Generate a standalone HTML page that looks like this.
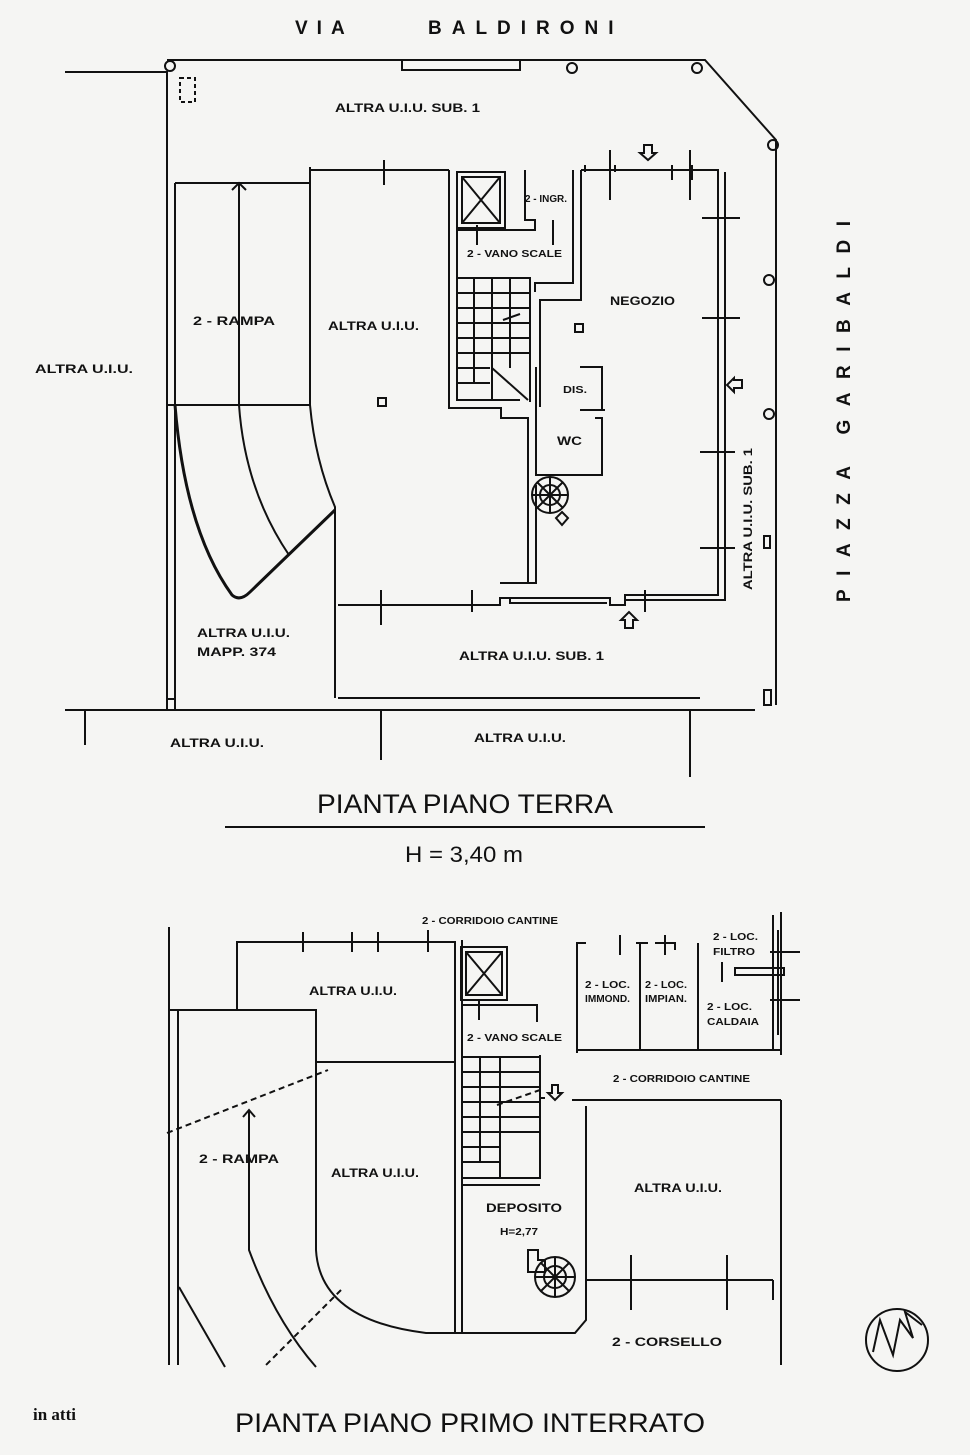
<!DOCTYPE html>
<html><head><meta charset="utf-8"><style>
html,body{margin:0;padding:0;background:#f5f5f3;}
svg{display:block}
text{font-family:"Liberation Sans",Arial,sans-serif;fill:#111;}
.b{font-weight:bold;font-size:12px;}
.s{font-weight:bold;font-size:10px;}
</style></head><body>
<svg width="970" height="1455" viewBox="0 0 970 1455" xmlns="http://www.w3.org/2000/svg">
<rect width="970" height="1455" fill="#f5f5f3"/>
<g stroke="#111" stroke-width="2" fill="none">
<!-- ===== TOP PLAN ===== -->
<path d="M65 72 H167 V710"/>
<path d="M167 60 H705 L776 140 V705"/>
<rect x="402" y="60" width="118" height="10"/>
<circle cx="170" cy="66" r="5"/><circle cx="572" cy="68" r="5"/><circle cx="697" cy="68" r="5"/><circle cx="773" cy="145" r="5"/>
<circle cx="769" cy="280" r="5"/><circle cx="769" cy="414" r="5"/>
<rect x="764" y="536" width="6" height="12"/>
<rect x="180" y="78" width="15" height="24" stroke-dasharray="4 3"/>
<path d="M65 710 H755"/>
<path d="M338 698 H700"/>
<path d="M85 710 V745 M381 710 V760 M690 710 V777"/>
<rect x="167" y="699" width="8" height="11"/>
<rect x="764" y="690" width="7" height="15"/>
<!-- ramp -->
<path d="M175 183 H310"/>
<path d="M175 183 V700"/>
<path d="M168 405 H310"/>
<path d="M310 167 V405 Q315 460 335 507 V698"/>
<path d="M175 405 Q185 530 232 595 Q240 602 250 592 L335 510" stroke-width="3"/>
<path d="M239 183 V405 Q245 490 289 555"/>
<path d="M232 190 L239 183 L246 190"/>
<!-- altra block top -->
<path d="M310 170 H449"/>
<path d="M384 160 V185"/>
<!-- stair core -->
<path d="M449 170 V408 H501 V418 H528 V583 H500"/>
<path d="M457 172 V400 H520"/>
<rect x="457" y="172" width="48" height="56"/><rect x="462" y="177" width="38" height="46"/>
<path d="M462 177 L500 223 M500 177 L462 223"/>
<path d="M457 230 H535 V220 H525 V170"/>
<path d="M477 225 V245"/>
<path d="M553 220 V245"/>
<path d="M457 278 H530 V402"/>
<path d="M457 293 H530 M457 308 H530 M457 323 H530 M457 338 H530 M457 353 H530 M457 368 H490 M457 383 H490"/>
<path d="M474 278 V383 M492 278 V400 M510 278 V368"/>
<path d="M492 368 L528 400 M503 320 L520 314" />
<path d="M573 170 V283 H535 V292 M581 170 V300 H540 V407"/>
<path d="M536 418 V475 H602 V418 H595 M536 418 V367"/>
<path d="M580 367 H602 V410 M580 410 H605"/>
<path d="M528 583 H536 V485"/>
<circle cx="550" cy="495" r="18"/>
<path d="M550 477 V513 M532 495 H568 M537 482 L563 508 M563 482 L537 508"/>
<circle cx="550" cy="495" r="10"/>
<path d="M562 512 L568 518 L562 525 L556 518 Z"/>
<path d="M338 605 H500 V598 H610 V605 H625 V595 H718 V170 H581"/>
<path d="M725 172 V600 H625"/>
<path d="M585 165 V172 M615 165 V172 M672 165 V180 M692 165 V180"/>
<path d="M510 598 V603 H607"/>
<path d="M610 150 V200 M690 150 V200"/>
<path d="M702 218 H740 M702 318 H740 M700 452 H735 M700 548 H735"/>
<path d="M381 590 V625 M472 590 V612 M645 590 V612"/>
<!-- arrows -->
<path d="M644 145 H652 V153 H656 L648 160 L640 153 H644 Z"/>
<path d="M625 628 H633 V620 H637 L629 612 L621 620 H625 Z"/>
<path d="M742 380 V388 H734 V392 L727 385 L734 378 V380 Z"/>
<rect x="575" y="324" width="8" height="8"/><rect x="378" y="398" width="8" height="8"/>

<!-- title line -->
<path d="M225 827 H705"/>

<!-- ===== BOTTOM PLAN ===== -->
<path d="M169 927 V1365"/>
<path d="M237 1010 V942 H455 V1333"/>
<path d="M303 932 V952 M352 932 V952 M378 932 V952 M428 930 V952"/>
<path d="M169 1010 H316 V1250 Q320 1320 426 1333 H575 L586 1320 V1106"/>
<path d="M178 1010 V1365"/>
<path d="M316 1062 H455"/>
<path d="M462 940 V1333 M455 1333 H462"/>
<rect x="461" y="947" width="46" height="53"/><rect x="466" y="952" width="36" height="43"/>
<path d="M466 952 L502 995 M502 952 L466 995"/>
<path d="M462 1005 H537 V1022 M479 1000 V1020"/>
<path d="M540 1055 V1178 M540 1098 H545"/>
<rect x="462" y="1057" width="78" height="121"/>
<path d="M462 1072 H540 M462 1087 H540 M462 1102 H540 M462 1117 H540 M462 1132 H540 M462 1147 H500 M462 1162 H500"/>
<path d="M480 1057 V1162 H500 V1057 M500 1147 V1178"/>
<path d="M462 1185 H540"/>
<path d="M586 1280 H773 M773 1280 V1300 M781 1100 V1365 M781 912 V1055"/>
<path d="M631 1255 V1310 M727 1255 V1310"/>
<path d="M572 1100 H781"/>
<path d="M577 1053 V943 H586 M640 943 V1050 M636 943 H648 M655 943 H675 V950 M698 943 V1050 M577 1050 H781"/>
<path d="M620 935 V955 M665 935 V955 M722 962 V982"/>
<path d="M735 968 H784 V975 H735 Z"/>
<path d="M773 915 V1050 M778 930 V1035 M770 952 H800 M770 1000 H800"/>
<path d="M179 1287 L225 1367 M249 1110 V1250 Q275 1320 316 1367"/>
<path d="M243 1117 L249 1110 L255 1117"/>
<path d="M167 1133 L328 1070 M341 1290 L264 1367 M497 1105 L540 1090" stroke-dasharray="6 4"/>
<path d="M552 1085 H558 V1093 H562 L555 1100 L548 1093 H552 Z"/>
<circle cx="555" cy="1277" r="20"/><circle cx="555" cy="1277" r="11"/>
<path d="M555 1257 V1297 M535 1277 H575 M541 1263 L569 1291 M569 1263 L541 1291"/>
<path d="M528 1250 H538 V1260 H545 V1272 H528 Z"/>
<!-- compass -->
<circle cx="897" cy="1340" r="31"/>
<path d="M873 1352 L880 1320 L893 1355 L900 1320 L913 1338 L905 1312 L922 1325"/>
</g>

<!-- texts -->
<text x="295" y="34" font-size="19" font-weight="bold" letter-spacing="9">VIA</text>
<text x="428" y="34" font-size="19" font-weight="bold" letter-spacing="10">BALDIRONI</text>
<text class="b" x="335" y="112" textLength="145" lengthAdjust="spacingAndGlyphs">ALTRA U.I.U. SUB. 1</text>
<text class="b" x="35" y="373" textLength="98" lengthAdjust="spacingAndGlyphs">ALTRA U.I.U.</text>
<text class="b" x="193" y="325" textLength="82" lengthAdjust="spacingAndGlyphs">2 - RAMPA</text>
<text class="b" x="328" y="330" textLength="91" lengthAdjust="spacingAndGlyphs">ALTRA U.I.U.</text>
<text class="s" x="525" y="202" font-size="9" textLength="42" lengthAdjust="spacingAndGlyphs">2 - INGR.</text>
<text class="s" x="467" y="257" textLength="95" lengthAdjust="spacingAndGlyphs">2 - VANO SCALE</text>
<text class="b" x="610" y="305" textLength="65" lengthAdjust="spacingAndGlyphs">NEGOZIO</text>
<text class="s" x="563" y="393" textLength="24" lengthAdjust="spacingAndGlyphs">DIS.</text>
<text class="b" x="557" y="445" textLength="25" lengthAdjust="spacingAndGlyphs">WC</text>
<text class="b" transform="translate(752,590) rotate(-90)" textLength="142" lengthAdjust="spacingAndGlyphs">ALTRA U.I.U. SUB. 1</text>
<text transform="translate(850,602) rotate(-90)" font-size="19" font-weight="bold" letter-spacing="9" textLength="390">PIAZZA GARIBALDI</text>
<text class="b" x="197" y="637" textLength="93" lengthAdjust="spacingAndGlyphs">ALTRA U.I.U.</text>
<text class="b" x="197" y="656" textLength="79" lengthAdjust="spacingAndGlyphs">MAPP. 374</text>
<text class="b" x="459" y="660" textLength="145" lengthAdjust="spacingAndGlyphs">ALTRA U.I.U. SUB. 1</text>
<text class="b" x="170" y="747" textLength="94" lengthAdjust="spacingAndGlyphs">ALTRA U.I.U.</text>
<text class="b" x="474" y="742" textLength="92" lengthAdjust="spacingAndGlyphs">ALTRA U.I.U.</text>
<text x="317" y="813" font-size="27" textLength="296" lengthAdjust="spacingAndGlyphs">PIANTA PIANO TERRA</text>
<text x="405" y="862" font-size="22" textLength="118" lengthAdjust="spacingAndGlyphs">H = 3,40 m</text>

<text class="s" x="422" y="924" textLength="136" lengthAdjust="spacingAndGlyphs">2 - CORRIDOIO CANTINE</text>
<text class="b" x="309" y="995" textLength="88" lengthAdjust="spacingAndGlyphs">ALTRA U.I.U.</text>
<text class="s" x="467" y="1041" textLength="95" lengthAdjust="spacingAndGlyphs">2 - VANO SCALE</text>
<text class="s" x="585" y="988" textLength="45" lengthAdjust="spacingAndGlyphs">2 - LOC.</text>
<text class="s" x="585" y="1002" textLength="45" lengthAdjust="spacingAndGlyphs">IMMOND.</text>
<text class="s" x="645" y="988" textLength="42" lengthAdjust="spacingAndGlyphs">2 - LOC.</text>
<text class="s" x="645" y="1002" textLength="42" lengthAdjust="spacingAndGlyphs">IMPIAN.</text>
<text class="s" x="713" y="940" textLength="45" lengthAdjust="spacingAndGlyphs">2 - LOC.</text>
<text class="s" x="713" y="955" textLength="42" lengthAdjust="spacingAndGlyphs">FILTRO</text>
<text class="s" x="707" y="1010" textLength="45" lengthAdjust="spacingAndGlyphs">2 - LOC.</text>
<text class="s" x="707" y="1025" textLength="52" lengthAdjust="spacingAndGlyphs">CALDAIA</text>
<text class="s" x="613" y="1082" textLength="137" lengthAdjust="spacingAndGlyphs">2 - CORRIDOIO CANTINE</text>
<text class="b" x="199" y="1163" textLength="80" lengthAdjust="spacingAndGlyphs">2 - RAMPA</text>
<text class="b" x="331" y="1177" textLength="88" lengthAdjust="spacingAndGlyphs">ALTRA U.I.U.</text>
<text class="b" x="634" y="1192" textLength="88" lengthAdjust="spacingAndGlyphs">ALTRA U.I.U.</text>
<text class="b" x="486" y="1212" textLength="76" lengthAdjust="spacingAndGlyphs">DEPOSITO</text>
<text class="s" x="500" y="1235" textLength="38" lengthAdjust="spacingAndGlyphs">H=2,77</text>
<text class="b" x="612" y="1346" font-size="14" textLength="110" lengthAdjust="spacingAndGlyphs">2 - CORSELLO</text>
<text x="33" y="1420" font-weight="bold" font-size="17" style="font-family:'Liberation Serif',serif">in atti</text>
<text x="235" y="1432" font-size="27" textLength="470" lengthAdjust="spacingAndGlyphs">PIANTA PIANO PRIMO INTERRATO</text>
</svg>
</body></html>
